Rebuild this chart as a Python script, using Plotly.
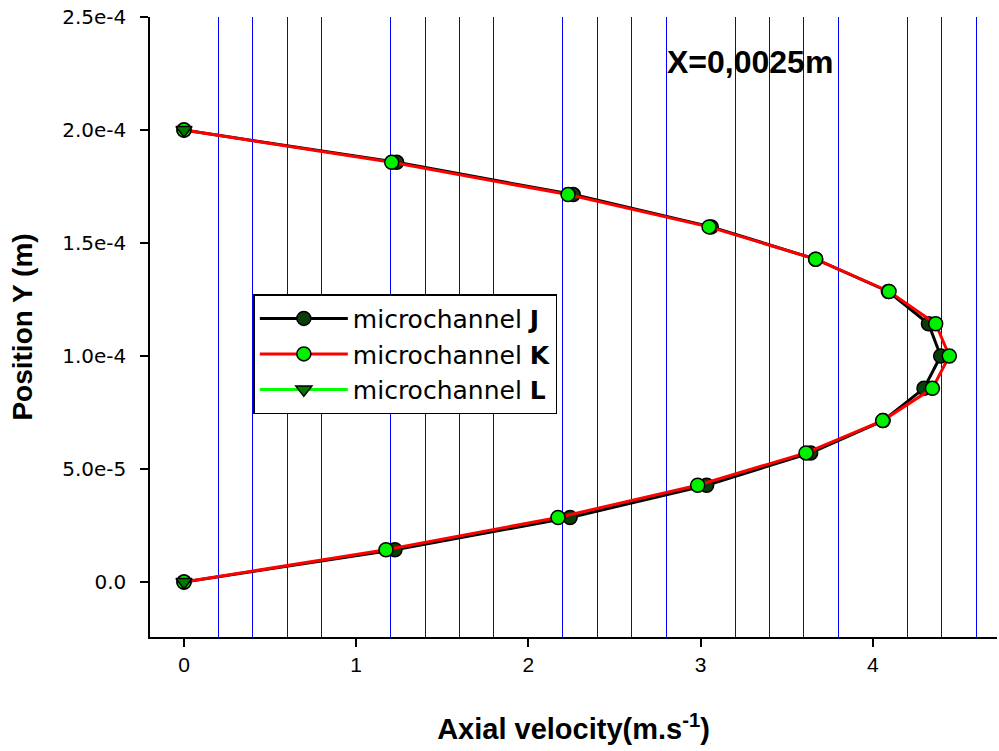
import plotly.graph_objects as go

# Y positions (m): 15 equally spaced stations across the channel
y_pos = [0.0, 1.4286e-5, 2.8571e-5, 4.2857e-5, 5.7143e-5, 7.1429e-5, 8.5714e-5,
         1.0e-4, 1.1429e-4, 1.2857e-4, 1.4286e-4, 1.5714e-4, 1.7143e-4, 1.8571e-4, 2.0e-4]

vel_J = [0.0, 1.225, 2.242, 3.035, 3.639, 4.06, 4.297, 4.394, 4.323, 4.09, 3.668, 3.062, 2.26, 1.235, 0.0]
vel_K = [0.0, 1.173, 2.172, 2.983, 3.612, 4.057, 4.346, 4.444, 4.365, 4.094, 3.668, 3.049, 2.23, 1.206, 0.0]
# microchannel L only visible at the wall points
vel_L = [0.0, None, 0.0]
y_L = [0.0, None, 2.0e-4]

y_tickvals = [0.0, 5e-5, 1e-4, 1.5e-4, 2e-4, 2.5e-4]
y_ticktext = ["0.0", "5.0e-5", "1.0e-4", "1.5e-4", "2.0e-4", "2.5e-4"]
x_tickvals = [0, 1, 2, 3, 4]
x_ticktext = ["0", "1", "2", "3", "4"]
# vertical grid lines (every 0.2, not on the labelled integers)
grid_x = [0.2, 0.4, 0.6, 0.8, 1.2, 1.4, 1.6, 1.8, 2.2, 2.4, 2.6, 2.8,
          3.2, 3.4, 3.6, 3.8, 4.2, 4.4, 4.6]

SANS = "Liberation Sans, Arial, sans-serif"
WIDE = "DejaVu Sans, Verdana, sans-serif"
X_RANGE = [-0.1974, 4.721]

fig = go.Figure()
# invisible trace that carries the grid-only overlay axis
fig.add_trace(go.Scatter(x=[None], y=[None], xaxis="x2", showlegend=False, hoverinfo="skip"))
fig.add_trace(go.Scatter(
    x=vel_J, y=y_pos, mode="lines+markers", name="microchannel <b>J</b>",
    line=dict(color="black", width=3),
    marker=dict(symbol="circle", size=14, color="#0b3d0b", line=dict(color="black", width=1.5)),
))
fig.add_trace(go.Scatter(
    x=vel_K, y=y_pos, mode="lines+markers", name="microchannel <b>K</b>",
    line=dict(color="#ff0000", width=3),
    marker=dict(symbol="circle", size=14, color="#00f000", line=dict(color="black", width=1.5)),
))
fig.add_trace(go.Scatter(
    x=vel_L, y=y_L, mode="lines+markers", name="microchannel <b>L</b>",
    connectgaps=False,
    line=dict(color="#00ff00", width=3),
    marker=dict(symbol="triangle-down", size=14, color="#007a00", line=dict(color="black", width=1.5)),
))

fig.update_layout(
    width=999, height=751,
    margin=dict(l=150, r=2, t=17, b=114),
    paper_bgcolor="white", plot_bgcolor="white",
    font=dict(family=SANS, color="black", size=22),
    showlegend=True,
    legend=dict(
        x=0.122, y=0.553, xanchor="left", yanchor="top",
        bgcolor="white", bordercolor="black", borderwidth=1.5,
        font=dict(family=WIDE, size=25, color="black"),
        itemwidth=88, tracegroupgap=0,
    ),
    xaxis=dict(
        range=X_RANGE,
        tickvals=x_tickvals, ticktext=x_ticktext,
        ticks="outside", ticklen=8, tickwidth=1.5, tickcolor="black",
        showline=True, linecolor="black", linewidth=1.5,
        showgrid=False, zeroline=False,
        tickfont=dict(family=SANS, size=21),
        title=dict(text="<b>Axial velocity(m.s<sup>-1</sup>)</b>",
                   font=dict(family=SANS, size=29), standoff=44),
    ),
    xaxis2=dict(
        overlaying="x", anchor="y", side="bottom", matches="x",
        range=X_RANGE,
        tickvals=grid_x, showticklabels=False, ticks="",
        showline=False, showgrid=True, gridcolor="#0000ff", gridwidth=1, zeroline=False,
    ),
    yaxis=dict(
        range=[-2.43e-5, 2.5e-4],
        tickvals=y_tickvals, ticktext=y_ticktext,
        ticks="outside", ticklen=8, tickwidth=1.5, tickcolor="black",
        showline=True, linecolor="black", linewidth=1.5,
        showgrid=False, zeroline=False,
        tickfont=dict(family=WIDE, size=20),
        ticklabelstandoff=10,
        title=dict(text="<b>Position Y (m)</b>", font=dict(family=SANS, size=28), standoff=21),
    ),
    annotations=[dict(
        text="<b>X=0,0025m</b>", xref="paper", yref="paper",
        x=0.608, y=0.927, xanchor="left", yanchor="middle", showarrow=False,
        font=dict(family=SANS, size=32, color="black"),
    )],
)

fig.write_html("out.html")
